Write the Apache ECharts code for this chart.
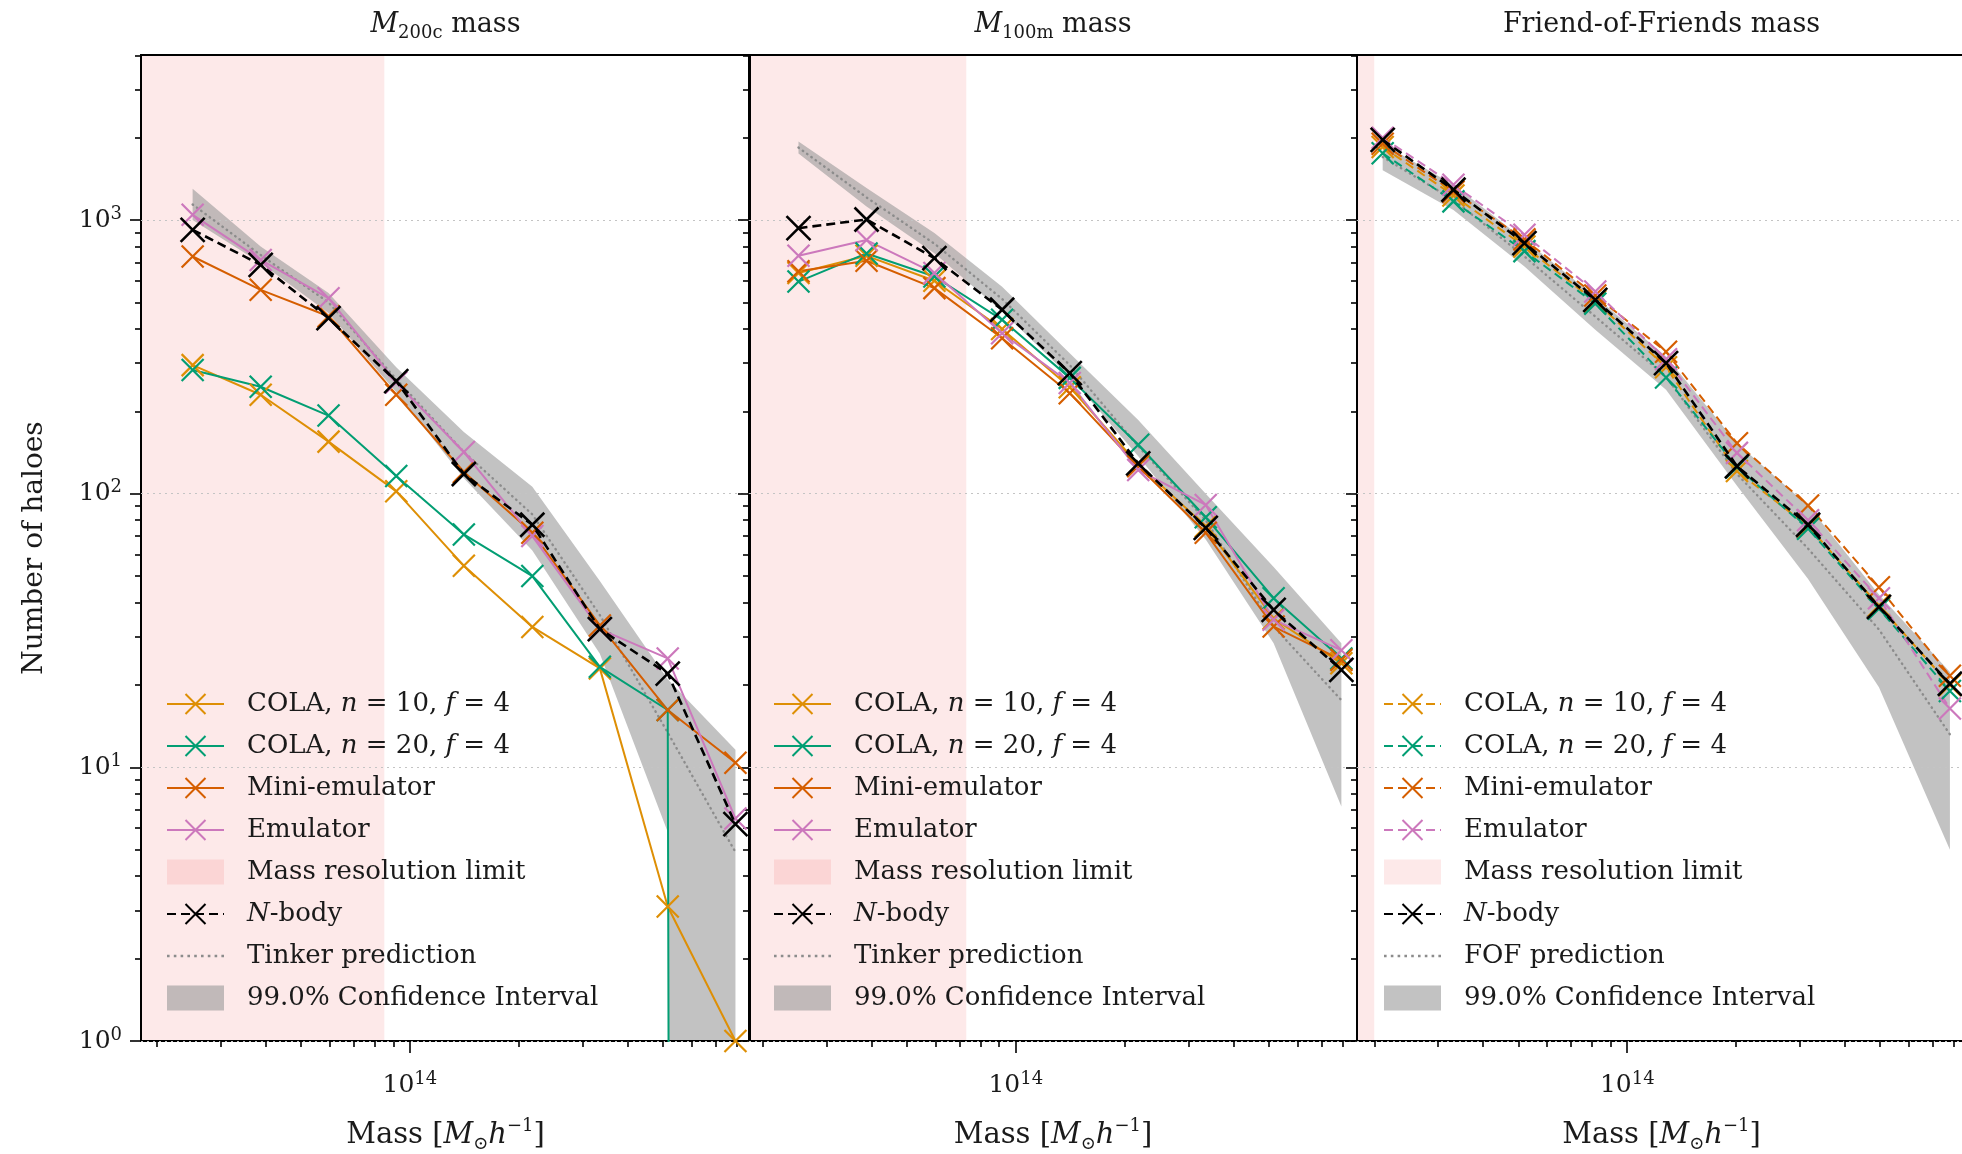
<!DOCTYPE html>
<html><head><meta charset="utf-8">
<script src="https://cdn.jsdelivr.net/npm/echarts@6/dist/echarts.min.js"></script>
<style>html,body{margin:0;padding:0;background:#fff}#c{width:1962px;height:1154px}</style>
</head><body><div id="c"></div>
<script>
// ---------------- DATA ----------------
const panelTitles = ['{i|M}{sub|200c}{t| mass}', '{i|M}{sub|100m}{t| mass}', '{t|Friend-of-Friends mass}'];
const massBinsSO  = [2.51e13, 3.87e13, 5.96e13, 9.17e13, 1.41e14, 2.18e14, 3.35e14, 5.16e14, 7.94e14];
const massBinsFOF = [2.11e13, 3.31e13, 5.20e13, 8.16e13, 1.28e14, 2.01e14, 3.16e14, 4.96e14, 7.79e14];
const resolutionLimit = [8.5e13, 7.3e13, 2.0e13];

// Panel 1: M200c
const m200c_cola10 = [295, 230, 155, 102, 54.5, 32.6, 23, 3.1, 1.0];
const m200c_cola20 = [283, 246, 193, 116, 71, 50, 23.3, 16.2, 0];
const m200c_mini   = [736, 556, 445, 230, 120, 72, 33, 16.2, 10.4];
const m200c_emu    = [1045, 715, 518, 255, 142, 70, 32, 25, 6.5];
const m200c_nbody  = [921, 686, 438, 258, 118, 77, 32, 22, 6.2];
const m200c_pred   = [1140, 745, 500, 262, 142, 84, 36, 13.4, 4.9];
const m200c_ciLow  = [1000, 697, 457, 235, 114, 62, 26, 5.8, 0];
const m200c_ciHigh = [1300, 800, 541, 290, 168, 106, 48, 21, 11.6];

// Panel 2: M100m
const m100m_cola10 = [640, 740, 600, 400, 245, 128, 76, 35, 24];
const m100m_cola20 = [596, 755, 622, 432, 265, 151, 82, 41.5, 25];
const m100m_mini   = [650, 710, 564, 370, 233, 126, 72, 32.7, 24.7];
const m100m_emu    = [740, 845, 640, 386, 254, 122, 91, 34.6, 26.8];
const m100m_nbody  = [934, 1005, 726, 470, 276, 129, 75, 37.6, 22.7];
const m100m_pred   = [1840, 1210, 820, 515, 295, 149, 80, 32.7, 17.6];
const m100m_ciLow  = [1750, 1120, 757, 463, 268, 137, 68, 28.4, 7.2];
const m100m_ciHigh = [1935, 1309, 896, 571, 326, 186, 100, 54, 28.4];

// Panel 3: Friend-of-Friends
const fof_cola10 = [1850, 1230, 800, 505, 290, 121, 76, 39, 20];
const fof_cola20 = [1755, 1170, 770, 495, 266, 125, 74.5, 38, 19];
const fof_mini   = [1900, 1270, 850, 530, 330, 153, 90.6, 45.5, 21.6];
const fof_emu    = [2000, 1346, 883, 548, 310, 141, 80, 41.5, 16.4];
const fof_nbody  = [1963, 1290, 823, 511, 300, 126, 77, 38.6, 20.2];
const fof_pred   = [1700, 1186, 736, 444, 268, 118, 63, 31.9, 13.2];
const fof_ciLow  = [1520, 1089, 676, 397, 240, 107, 48.8, 19.6, 5.0];
const fof_ciHigh = [1900, 1346, 847, 525, 317, 153, 90.6, 42.8, 22.3];

// axes / ticks
const xAxisMin = [1.807e13, 1.832e13, 1.792e13];
const xAxisMax = [8.71e14, 8.77e14, 8.63e14];
const yAxisMin = 1, yAxisMax = 4010;
const xMajorTicks = [1e14];
const xMinorTicks = [2e13, 3e13, 4e13, 5e13, 6e13, 7e13, 8e13, 9e13, 2e14, 3e14, 4e14, 5e14, 6e14, 7e14, 8e14];
const yMajorTicks = [1, 10, 100, 1000];
const yMinorTicks = [2, 3, 4, 5, 6, 7, 8, 9, 20, 30, 40, 50, 60, 70, 80, 90, 200, 300, 400, 500, 600, 700, 800, 900, 2000, 3000, 4000];

// legend labels
const legendLabelsCommon = {
  cola10: 'COLA, {i|n} = 10, {i|f} = 4',
  cola20: 'COLA, {i|n} = 20, {i|f} = 4',
  mini: 'Mini-emulator',
  emu: 'Emulator',
  res: 'Mass resolution limit',
  nbody: '{i|N}-body',
  ci: '99.0% Confidence Interval'
};
const predictionLabels = ['Tinker prediction', 'Tinker prediction', 'FOF prediction'];
const yAxisTitle = 'Number of haloes';
const xAxisTitle = 'Mass [{i|M}{sub|⊙}{i|h}{sup|−1}]';

// ---------------- BUILD ----------------
const FONT = 'DejaVu Serif';
const TXT = '#1a1a1a';
const COLORS = {cola10:'#de8f05', cola20:'#029e73', mini:'#d55e00', emu:'#cc78bc', nbody:'#000000',
                pred:'#8c8c8c', ci:'rgba(150,150,150,0.58)', res:'rgba(240,40,40,0.1)'};
const CROSS = 'path://M0,0L10,10M10,0L0,10';
const DOTS = 'path://' + Array.from({length: 9}, (_, k) => 'M' + (k * 6.8) + ',0h2.6v2.6h-2.6z').join(' ');
const lg = v => (v > 0 ? Math.log10(v) : -100);

const panels = [
  {bins: massBinsSO, dashed: false, d: {cola10:m200c_cola10, cola20:m200c_cola20, mini:m200c_mini, emu:m200c_emu, nbody:m200c_nbody, pred:m200c_pred, lo:m200c_ciLow, hi:m200c_ciHigh}},
  {bins: massBinsSO, dashed: false, d: {cola10:m100m_cola10, cola20:m100m_cola20, mini:m100m_mini, emu:m100m_emu, nbody:m100m_nbody, pred:m100m_pred, lo:m100m_ciLow, hi:m100m_ciHigh}},
  {bins: massBinsFOF, dashed: true, d: {cola10:fof_cola10, cola20:fof_cola20, mini:fof_mini, emu:fof_emu, nbody:fof_nbody, pred:fof_pred, lo:fof_ciLow, hi:fof_ciHigh}}
];

const gridLeft = [141, 749, 1357];
const gridWidth = [609, 608, 609];
const gridTop = 55, gridHeight = 986;
const legendLeft = [166, 773, 1383];

const tickLine = {color:'#000', width:1.6};
const supRich = {
  b: {fontFamily: FONT, fontSize: 25, lineHeight: 30, color: TXT},
  s: {fontFamily: FONT, fontSize: 18, lineHeight: 16, verticalAlign: 'top', color: TXT}
};
const powLabel = v => '{b|10}{s|' + Math.round(v) + '}';

const grids = [], xAxes = [], yAxes = [], series = [], legends = [], graphics = [];
const labelOf = {};

panels.forEach((p, gi) => {
  grids.push({left: gridLeft[gi], top: gridTop, width: gridWidth[gi], height: gridHeight,
              containLabel: false, outerBoundsMode: 'none',
              show: true, borderColor: '#000', borderWidth: 2, backgroundColor: 'rgba(0,0,0,0)'});
  const xmin = lg(xAxisMin[gi]), xmax = lg(xAxisMax[gi]);
  xAxes.push({type:'value', gridIndex: gi, min: xmin, max: xmax, position:'bottom',
    axisLine:{show:false},
    axisTick:{show:true, customValues: xMajorTicks.map(lg), length: 12, lineStyle: tickLine},
    axisLabel:{show:true, customValues: xMajorTicks.map(lg), formatter: powLabel, margin: 29, rich: supRich},
    splitLine:{show:false},
    name: xAxisTitle, nameLocation:'middle', nameGap: 76,
    nameTextStyle:{fontFamily: FONT, fontSize: 29, color: TXT, lineHeight: 36,
      rich:{i:{fontFamily: FONT, fontStyle:'italic', fontSize: 29, color: TXT, lineHeight: 36},
            sub:{fontFamily: FONT, fontSize: 18, color: TXT, lineHeight: 20, verticalAlign:'bottom'},
            sup:{fontFamily: FONT, fontSize: 18, color: TXT, lineHeight: 18, verticalAlign:'top'}}}
  });
  xAxes.push({type:'value', gridIndex: gi, min: xmin, max: xmax, position:'bottom',
    axisLine:{show:false},
    axisTick:{show:true, customValues: xMinorTicks.map(lg), length: 6, lineStyle: tickLine},
    axisLabel:{show:false}, splitLine:{show:false}});
  yAxes.push({type:'value', gridIndex: gi, min: lg(yAxisMin), max: lg(yAxisMax), position:'left',
    axisLine:{show:false},
    axisTick:{show:true, customValues: yMajorTicks.map(lg), length: 11, lineStyle: tickLine},
    axisLabel:{show: gi === 0, customValues: yMajorTicks.map(lg), formatter: powLabel, margin: 19, rich: supRich},
    splitLine:{show:true, lineStyle:{color:'#c4c4c4', width:1.2, type:[2,4]}},
    name: gi === 0 ? yAxisTitle : '', nameLocation:'middle', nameGap: 92, nameRotate: 90,
    nameTextStyle:{fontFamily: FONT, fontSize: 28, color: TXT}
  });
  yAxes.push({type:'value', gridIndex: gi, min: lg(yAxisMin), max: lg(yAxisMax), position:'left',
    axisLine:{show:false},
    axisTick:{show:true, customValues: yMinorTicks.map(lg), length: 6, lineStyle: tickLine},
    axisLabel:{show:false}, splitLine:{show:false}});

  const xi = gi * 2, yi = gi * 2;
  const nm = k => k + '_' + gi;
  Object.keys(legendLabelsCommon).forEach(k => { labelOf[nm(k)] = legendLabelsCommon[k]; });
  labelOf[nm('pred')] = predictionLabels[gi];

  // mass resolution region
  series.push({type:'custom', name: nm('res'), xAxisIndex: xi, yAxisIndex: yi, coordinateSystem:'cartesian2d',
    clip: true, silent: true, z: -2, itemStyle:{color: COLORS.res},
    data: [[lg(resolutionLimit[gi]), 0]],
    renderItem: (params, api) => {
      const a = api.coord([xmin, lg(yAxisMax)]);
      const b = api.coord([api.value(0), lg(yAxisMin)]);
      return {type:'rect', shape:{x:a[0], y:a[1], width:b[0]-a[0], height:b[1]-a[1]}, style:{fill: COLORS.res}};
    }});
  // confidence band
  const bins = p.bins, lo = p.d.lo, hi = p.d.hi;
  series.push({type:'custom', name: nm('ci'), xAxisIndex: xi, yAxisIndex: yi, coordinateSystem:'cartesian2d',
    clip: true, silent: true, z: -1, itemStyle:{color: COLORS.ci},
    data: bins.map((b, k) => [lg(b), lg(lo[k]), lg(hi[k])]),
    encode: {x: 0, y: [1, 2]},
    renderItem: (params, api) => {
      if (params.dataIndex !== 0) return null;
      const pts = [];
      for (let k = 0; k < bins.length; k++) pts.push(api.coord([lg(bins[k]), lg(hi[k])]));
      for (let k = bins.length - 1; k >= 0; k--) pts.push(api.coord([lg(bins[k]), lg(lo[k])]));
      return {type:'polygon', shape:{points: pts}, style:{fill: COLORS.ci}};
    }});
  // prediction (dotted)
  series.push({type:'line', name: nm('pred'), xAxisIndex: xi, yAxisIndex: yi, clip: true, silent: true,
    symbol:'none', z: 2,
    itemStyle:{color: COLORS.pred},
    lineStyle:{color: COLORS.pred, width: 2.4, type:[0.5, 4.8], cap:'round'},
    data: bins.map((b, k) => [lg(b), lg(p.d.pred[k])])});
  const mk = (key, color, dashed, width, size, bw, z) => ({
    type:'line', name: nm(key), xAxisIndex: xi, yAxisIndex: yi, clip: true, silent: true, z,
    symbol: CROSS, symbolSize: size, showSymbol: true,
    itemStyle:{color: color, borderColor: color, borderWidth: bw},
    lineStyle:{color: color, width: width, type: dashed ? [9, 5] : 'solid'},
    data: bins.map((b, k) => [lg(b), lg(p.d[key][k])])
  });
  series.push(mk('cola10', COLORS.cola10, p.dashed, 2, 22, 2.2, 3));
  series.push(mk('cola20', COLORS.cola20, p.dashed, 2, 22, 2.2, 3));
  series.push(mk('mini', COLORS.mini, p.dashed, 2, 22, 2.2, 3));
  series.push(mk('emu', COLORS.emu, p.dashed, 2, 22, 2.2, 3));
  series.push(mk('nbody', COLORS.nbody, true, 2.6, 24, 2.6, 4));

  legends.push({orient:'vertical', left: legendLeft[gi], top: 689, padding: 0,
    itemWidth: 57, itemHeight: 25, itemGap: 12, selectedMode: false,
    data: [
      {name: nm('cola10')}, {name: nm('cola20')}, {name: nm('mini')}, {name: nm('emu')},
      {name: nm('res'), icon: 'rect'}, {name: nm('nbody')},
      {name: nm('pred'), icon: DOTS, itemStyle: {color: COLORS.pred}},
      {name: nm('ci'), icon: 'rect'}
    ],
    formatter: n => labelOf[n],
    textStyle:{fontFamily: FONT, fontSize: 26, color: TXT, lineHeight: 30, padding:[0,0,0,18],
      rich:{i:{fontFamily: FONT, fontStyle:'italic', fontSize: 26, color: TXT, lineHeight: 30}}}
  });

  graphics.push({type:'text', x: gridLeft[gi] + gridWidth[gi] / 2, y: 25,
    style:{text: panelTitles[gi], align:'center', verticalAlign:'middle', fill: TXT,
      fontFamily: FONT, fontSize: 27,
      rich:{t:{fontFamily: FONT, fontSize: 27, lineHeight: 34, fill: TXT},
            i:{fontFamily: FONT, fontStyle:'italic', fontSize: 27, lineHeight: 34, fill: TXT},
            sub:{fontFamily: FONT, fontSize: 18, lineHeight: 22, verticalAlign:'bottom', fill: TXT}}}});
});

const chart = echarts.init(document.getElementById('c'), null, {renderer:'canvas'});
chart.setOption({
  animation: false,
  backgroundColor: '#ffffff',
  grid: grids, xAxis: xAxes, yAxis: yAxes, series: series, legend: legends, graphic: graphics
});
</script>
</body></html>
